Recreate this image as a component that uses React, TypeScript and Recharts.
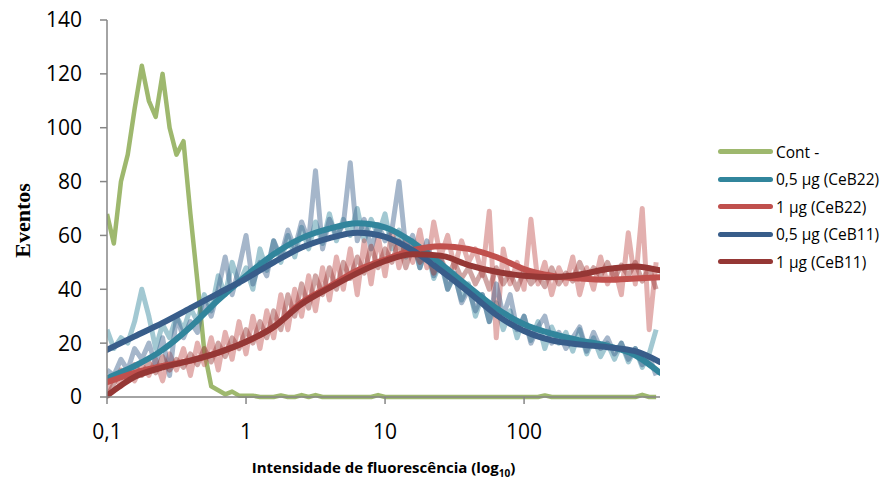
import React from 'react';
import { LineChart, Line, XAxis, YAxis } from 'recharts';

// channel positions of the raw histograms (log spaced)
const xRaw = [
  0.1, 0.112, 0.126, 0.141, 0.158, 0.178, 0.2, 0.224, 0.251, 0.282, 0.316, 0.355, 0.398, 0.447, 0.501, 0.562, 0.631, 0.708, 0.794, 0.891,
  1, 1.12, 1.26, 1.41, 1.58, 1.78, 2, 2.24, 2.51, 2.82, 3.16, 3.55, 3.98, 4.47, 5.01, 5.62, 6.31, 7.08, 7.94, 8.91,
  10, 11.2, 12.6, 14.1, 15.8, 17.8, 20, 22.4, 25.1, 28.2, 31.6, 35.5, 39.8, 44.7, 50.1, 56.2, 63.1, 70.8, 79.4, 89.1,
  100, 112, 126, 141, 158, 178, 200, 224, 251, 282, 316, 355, 398, 447, 501, 562, 631, 708, 794, 891,
];

const contRaw = [
  68, 57, 80, 90, 107, 123, 110, 104, 120, 100, 90, 95, 68, 43, 17, 4, 2.5, 1, 2, 0.5,
  0.5, 0.5, 0, 0, 0, 0.6, 0, 0, 0.7, 0, 0.7, 0, 0, 0, 0, 0, 0, 0, 0, 0.7,
  0, 0, 0, 0, 0, 0, 0, 0, 0, 0, 0, 0, 0, 0, 0, 0, 0, 0, 0, 0,
  0, 0, 0, 0.6, 0, 0, 0, 0, 0, 0, 0, 0, 0, 0, 0, 0, 0, 0.8, 0, 0,
];

const ceb22LowRaw = [
  25, 18, 22, 20, 28, 40, 30, 18, 27, 22, 30, 25, 33, 28, 38, 32, 45, 38, 50, 42,
  48, 40, 55, 47, 58, 50, 60, 52, 63, 55, 65, 57, 68, 58, 66, 60, 70, 58, 66, 60,
  68, 55, 62, 52, 58, 48, 55, 44, 50, 40, 45, 36, 42, 30, 38, 28, 35, 25, 32, 22,
  30, 21, 28, 18, 26, 20, 24, 17, 25, 16, 22, 15, 20, 14, 20, 13, 18, 11, 16, 25,
];

const ceb22HighRaw = [
  2, 8, 4, 10, 6, 12, 8, 14, 6, 16, 10, 18, 8, 20, 12, 22, 10, 24, 14, 28,
  16, 30, 18, 32, 22, 38, 25, 40, 30, 45, 32, 48, 36, 52, 40, 55, 38, 58, 42, 60,
  45, 62, 48, 58, 50, 62, 48, 65, 52, 60, 48, 58, 50, 55, 45, 69, 22, 55, 42, 50,
  40, 66, 42, 50, 38, 48, 42, 52, 38, 48, 40, 52, 42, 48, 38, 61, 42, 70, 25, 50,
];

const ceb11LowRaw = [
  10, 8, 14, 10, 18, 14, 20, 12, 22, 8, 30, 22, 28, 24, 36, 30, 40, 52, 38, 48,
  60, 42, 50, 45, 58, 52, 62, 55, 65, 58, 84, 55, 66, 60, 64, 87, 58, 66, 55, 64,
  58, 62, 80, 55, 60, 48, 58, 45, 52, 40, 46, 35, 40, 32, 38, 28, 42, 30, 38, 25,
  30, 20, 26, 30, 20, 24, 18, 22, 26, 17, 24, 18, 22, 16, 20, 14, 18, 12, 15, 8,
];

const ceb11HighRaw = [
  0, 5, 10, 6, 12, 8, 13, 9, 15, 10, 14, 11, 16, 12, 18, 13, 20, 15, 22, 18,
  25, 20, 28, 22, 32, 25, 38, 30, 42, 33, 45, 38, 48, 40, 50, 44, 52, 46, 56, 48,
  55, 50, 58, 48, 56, 50, 54, 46, 52, 45, 50, 44, 48, 42, 47, 40, 48, 42, 46, 40,
  47, 42, 45, 41, 48, 42, 46, 43, 50, 44, 48, 45, 50, 44, 49, 45, 50, 43, 48, 40,
];

// smoothed trend curves
const xFit = [0.1, 0.158, 0.251, 0.398, 0.631, 1, 1.58, 2.51, 3.98, 6.31, 10, 15.8, 25.1, 39.8, 63.1, 100, 158, 251, 398, 631, 950];
const ceb22LowFit = [7, 11.5, 17.5, 26, 36, 45, 53, 59, 62.5, 64.5, 63, 57.5, 49.5, 41, 33, 27, 23.5, 21, 19, 15.5, 9];
const ceb22HighFit = [5.5, 9, 11.5, 13.5, 16.5, 20.5, 26, 35, 41, 47, 51, 54.5, 56, 55, 52, 47.5, 45, 44, 43.5, 44, 44.5];
const ceb11LowFit = [17.5, 22.5, 27.5, 33, 38.5, 44, 50, 55.5, 59, 61, 59.5, 54.5, 47, 39, 30.5, 24.5, 21, 19.5, 18.5, 17, 13];
const ceb11HighFit = [0.5, 7.5, 11, 13.5, 16.5, 20.5, 26, 34.5, 40.5, 46, 50.5, 53, 52.5, 49, 46.5, 45, 44.5, 45.5, 47.5, 48.5, 47];

const xTicks = [0.1, 1, 10, 100];
const yTicks = [0, 20, 40, 60, 80, 100, 120, 140];

const legendNames = ['Cont -', '0,5 µg (CeB22)', '1 µg (CeB22)', '0,5 µg (CeB11)', '1 µg (CeB11)'];
const legendColors = ['#9EB86E', '#31859C', '#C0504D', '#385D8A', '#953735'];

const toRows = (xs: number[], ys: number[]) => xs.map((x, i) => ({ x, y: ys[i] }));

const contData = toRows(xRaw, contRaw);
const rawSeries = [
  { data: toRows(xRaw, ceb22LowRaw), color: '#31859C' },
  { data: toRows(xRaw, ceb22HighRaw), color: '#C0504D' },
  { data: toRows(xRaw, ceb11LowRaw), color: '#385D8A' },
  { data: toRows(xRaw, ceb11HighRaw), color: '#953735' },
];
const fitSeries = [
  { data: toRows(xFit, ceb22LowFit), color: '#31859C' },
  { data: toRows(xFit, ceb22HighFit), color: '#C0504D' },
  { data: toRows(xFit, ceb11LowFit), color: '#385D8A' },
  { data: toRows(xFit, ceb11HighFit), color: '#953735' },
];

const tickFont = { fontFamily: '"Open Sans", sans-serif', fontSize: 21, fill: '#000' };

const App: React.FC = () => {
  return (
    <div style={{ position: 'absolute', left: 0, top: 0, width: 890, height: 483, background: '#fff' }}>
      <LineChart width={890} height={483} margin={{ top: 20, right: 230, bottom: 36, left: 47 }}>
        <XAxis
          type="number"
          dataKey="x"
          scale="log"
          domain={[0.1, 950]}
          ticks={xTicks}
          allowDataOverflow
          height={50}
          stroke="#868686"
          strokeWidth={1.5}
          tickSize={7}
          tickMargin={20}
          tick={tickFont}
          tickFormatter={(v: number) => String(v).replace('.', ',')}
          label={{
            content: (props: any) => {
              const vb = props.viewBox || {};
              return (
                <text
                  x={vb.x + vb.width / 2}
                  y={vb.y + 76}
                  textAnchor="middle"
                  fontFamily='"Open Sans", sans-serif'
                  fontWeight="bold"
                  fontSize={15}
                  fill="#000"
                >
                  Intensidade de fluorescência (log
                  <tspan fontSize={10} dy={4}>10</tspan>
                  <tspan dy={-4}>)</tspan>
                </text>
              );
            },
          }}
        />
        <YAxis
          type="number"
          domain={[0, 140]}
          ticks={yTicks}
          width={60}
          stroke="#868686"
          strokeWidth={1.5}
          tickSize={7}
          tickMargin={18}
          tick={tickFont}
          label={{
            content: (props: any) => {
              const vb = props.viewBox || {};
              const cx = vb.x - 25;
              const cy = vb.y + vb.height / 2 + 12;
              return (
                <text
                  x={cx}
                  y={cy}
                  transform={`rotate(-90, ${cx}, ${cy})`}
                  textAnchor="middle"
                  dominantBaseline="central"
                  fontFamily='"Liberation Serif", serif'
                  fontWeight="bold"
                  fontSize={22}
                  fill="#000"
                >
                  Eventos
                </text>
              );
            },
          }}
        />
        <Line
          data={contData}
          dataKey="y"
          type="linear"
          stroke="#9EB86E"
          strokeWidth={4.5}
          dot={false}
          strokeLinejoin="round"
          isAnimationActive={false}
        />
        {rawSeries.map((s, i) => (
          <Line
            key={`raw-${i}`}
            data={s.data}
            dataKey="y"
            type="linear"
            stroke={s.color}
            strokeOpacity={0.45}
            strokeWidth={5}
            dot={false}
            strokeLinejoin="round"
            isAnimationActive={false}
          />
        ))}
        {fitSeries.map((s, i) => (
          <Line
            key={`fit-${i}`}
            data={s.data}
            dataKey="y"
            type="monotone"
            stroke={s.color}
            strokeWidth={6}
            dot={false}
            strokeLinecap="round"
            isAnimationActive={false}
          />
        ))}
      </LineChart>
      <div style={{ position: 'absolute', left: 718, top: 138, fontFamily: '"Open Sans", sans-serif', fontSize: 15.5, color: '#000' }}>
        {legendNames.map((name, i) => (
          <div key={name} style={{ display: 'flex', alignItems: 'center', height: 27.5 }}>
            <div style={{ width: 55, height: 5, borderRadius: 3, background: legendColors[i], marginRight: 3 }} />
            <span>{name}</span>
          </div>
        ))}
      </div>
    </div>
  );
};

export default App;
